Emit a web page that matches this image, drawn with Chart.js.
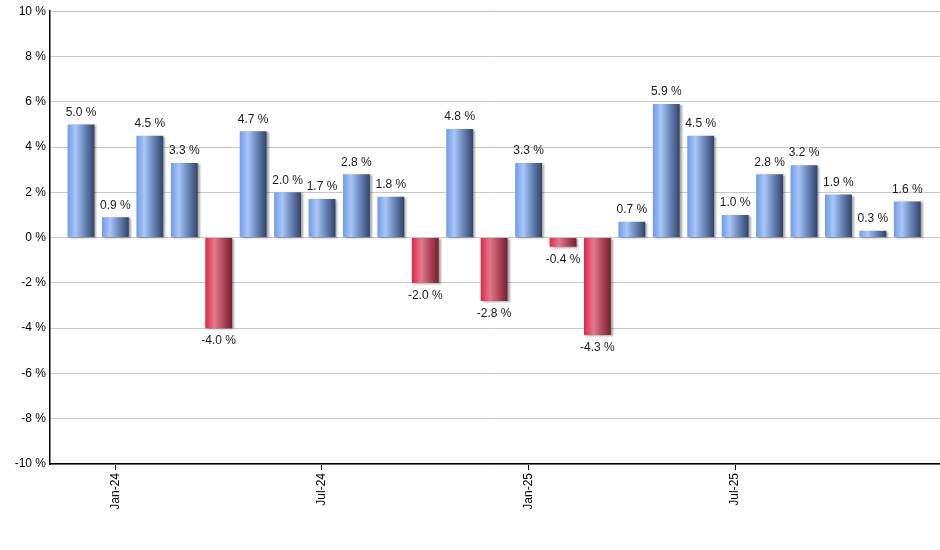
<!DOCTYPE html>
<html>
<head>
<meta charset="utf-8">
<script src="https://cdn.jsdelivr.net/npm/chart.js@4"></script>
<style>
  html, body { margin: 0; padding: 0; background: #fff; }
  #wrap { width: 940px; height: 550px; }
</style>
</head>
<body>
<div id="wrap"><canvas id="returnChart"></canvas></div>
<script>
// 月份（Dec-23 ~ Dec-25）
const months = ['Dec-23', 'Jan-24', 'Feb-24', 'Mar-24', 'Apr-24', 'May-24', 'Jun-24', 'Jul-24', 'Aug-24',
    'Sep-24', 'Oct-24', 'Nov-24', 'Dec-24', 'Jan-25', 'Feb-25', 'Mar-25', 'Apr-25', 'May-25', 'Jun-25',
    'Jul-25', 'Aug-25', 'Sep-25', 'Oct-25', 'Nov-25', 'Dec-25'];
// 每月報酬 (%)
const returns = [5.0, 0.9, 4.5, 3.3, -4.0, 4.7, 2.0, 1.7, 2.8, 1.8, -2.0, 4.8, -2.8, 3.3, -0.4, -4.3,
    0.7, 5.9, 4.5, 1.0, 2.8, 3.2, 1.9, 0.3, 1.6];
// X 軸顯示的標籤
const tickLabels = ['Jan-24', 'Jul-24', 'Jan-25', 'Jul-25'];
// Y 軸刻度
const yTicks = [-10, -8, -6, -4, -2, 0, 2, 4, 6, 8, 10];

const FONT = 'Liberation Sans, Arial, sans-serif';
const BAR_PCT = 0.78;

// 漸層填色
function barGradient(context) {
    const chart = context.chart;
    const xs = chart.scales.x;
    if (!xs || !chart.chartArea || context.parsed == null) return '#7aa0e0';
    const cx = xs.getPixelForValue(context.parsed.x);
    const half = (xs.getPixelForValue(1) - xs.getPixelForValue(0)) * BAR_PCT / 2;
    const g = chart.ctx.createLinearGradient(cx - half, 0, cx + half, 0);
    if (context.parsed.y >= 0) {
        g.addColorStop(0, '#6f9be9');
        g.addColorStop(0.3, '#a9c6f7');
        g.addColorStop(0.6, '#6f8cc0');
        g.addColorStop(1, '#304468');
    } else {
        g.addColorStop(0, '#e0264a');
        g.addColorStop(0.35, '#e27a8c');
        g.addColorStop(0.65, '#b44a5e');
        g.addColorStop(1, '#74202f');
    }
    return g;
}

// 長條陰影
const shadowPlugin = {
    id: 'barShadow',
    beforeDatasetsDraw(chart) {
        const ctx = chart.ctx;
        ctx.save();
        ctx.shadowColor = 'rgba(0,0,0,0.35)';
        ctx.shadowOffsetX = 2;
        ctx.shadowOffsetY = 1;
        ctx.shadowBlur = 2;
    },
    afterDatasetsDraw(chart) {
        chart.ctx.restore();
    }
};

// 數值標籤
const valueLabels = {
    id: 'valueLabels',
    afterDatasetsDraw(chart) {
        const ctx = chart.ctx;
        const meta = chart.getDatasetMeta(0);
        ctx.save();
        ctx.font = '12px ' + FONT;
        ctx.fillStyle = '#1a1a1a';
        ctx.textAlign = 'center';
        ctx.textBaseline = 'middle';
        meta.data.forEach((bar, i) => {
            const v = returns[i];
            const y = v >= 0 ? bar.y - 12 : bar.y + 13;
            ctx.fillText(v.toFixed(1) + ' %', bar.x, y);
        });
        ctx.restore();
    }
};

const chartData = {
    datasets: [{
        data: returns.map((v, i) => ({ x: i, y: v })),
        backgroundColor: barGradient,
        borderWidth: 0,
        barPercentage: BAR_PCT,
        categoryPercentage: 1
    }]
};

const chartOptions = {
    responsive: true,
    maintainAspectRatio: false,
    animation: false,
    layout: { padding: { top: 7, right: 0, left: 0, bottom: 0 } },
    plugins: {
        legend: { display: false },
        tooltip: { enabled: false }
    },
    scales: {
        x: {
            type: 'linear',
            offset: false,
            min: -0.9,
            max: 24.95,
            afterBuildTicks(scale) {
                scale.ticks = tickLabels.map(l => ({ value: months.indexOf(l) }));
            },
            afterFit(scale) { scale.height = 86; },
            grid: {
                display: true,
                offset: false,
                drawOnChartArea: false,
                drawTicks: true,
                tickLength: 6,
                color: '#000'
            },
            border: { display: true, color: '#000', width: 1.5 },
            ticks: {
                autoSkip: false,
                minRotation: 90,
                maxRotation: 90,
                padding: 3,
                color: '#000',
                font: { family: FONT, size: 12 },
                callback: (v) => months[v]
            }
        },
        y: {
            min: -10,
            max: 10,
            afterBuildTicks(scale) {
                scale.ticks = yTicks.map(v => ({ value: v }));
            },
            afterFit(scale) { scale.width = 50; },
            grid: {
                color: '#c8c8c8',
                drawTicks: false
            },
            border: { display: true, color: '#000', width: 1.5 },
            ticks: {
                padding: 4,
                color: '#000',
                font: { family: FONT, size: 12 },
                callback: (v) => v + ' %'
            }
        }
    }
};

// 建立圖表
const returnChart = new Chart(document.getElementById('returnChart'), {
    type: 'bar',
    data: chartData,
    options: chartOptions,
    plugins: [shadowPlugin, valueLabels]
});
</script>
</body>
</html>
